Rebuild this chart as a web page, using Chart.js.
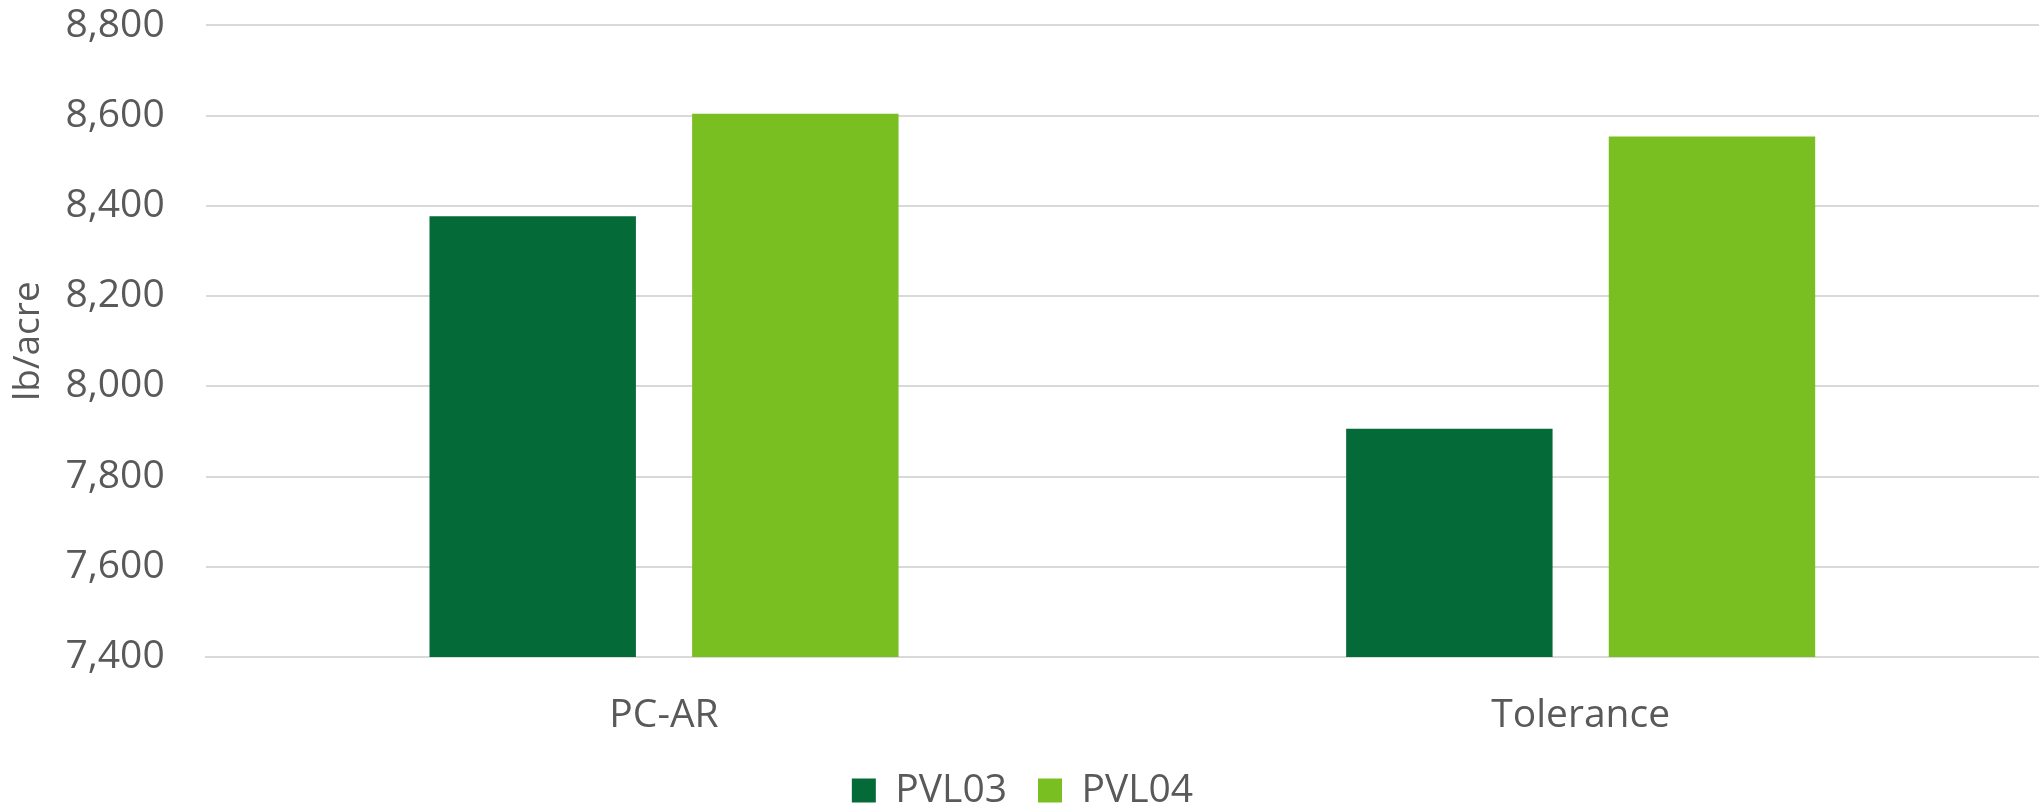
<!DOCTYPE html>
<html>
<head>
<meta charset="utf-8">
<script src="https://cdn.jsdelivr.net/npm/chart.js@4/dist/chart.umd.min.js"></script>
<style>
    html, body { margin: 0; padding: 0; background: #fff; }
    #wrap { width: 2039px; height: 803px; }
</style>
</head>
<body>
<div id="wrap"><canvas id="chart"></canvas></div>
<script>
const categories = ["PC-AR", "Tolerance"];
const seriesNames = ["PVL03", "PVL04"];
const pvl03 = [8377, 7906];
const pvl04 = [8604, 8554];
const yTicks = [7400, 7600, 7800, 8000, 8200, 8400, 8600, 8800];

const txt = "#595959";
const fontFam = "'Open Sans', 'Liberation Sans', sans-serif";

const ctx = document.getElementById("chart").getContext("2d");
new Chart(ctx, {
    type: "bar",
    data: {
        labels: categories,
        datasets: [
            { label: seriesNames[0], data: pvl03, backgroundColor: "#046A38" },
            { label: seriesNames[1], data: pvl04, backgroundColor: "#7ABF22" },
        ],
    },
    options: {
        responsive: true,
        maintainAspectRatio: false,
        animation: false,
        categoryPercentage: 0.573,
        barPercentage: 0.786,
        layout: { padding: { top: 0, right: 0, left: 6, bottom: -17 } },
        scales: {
            x: {
                grid: { display: false, drawTicks: false },
                border: { color: "#d9d9d9", width: 2 },
                ticks: { color: txt, font: { family: fontFam, size: 39 }, padding: 35 },
                // fixed axis box height so the plot bottom lines up with the original
                afterFit: (axis) => { axis.height = 83; },
            },
            y: {
                min: yTicks[0],
                max: yTicks[yTicks.length - 1],
                afterBuildTicks: (axis) => {
                    axis.ticks = yTicks.map((v) => ({ value: v }));
                },
                grid: {
                    color: "#d9d9d9",
                    lineWidth: 2,
                    drawTicks: true,
                    tickLength: 39,
                    tickColor: "rgba(0,0,0,0)",
                },
                border: { display: false },
                ticks: {
                    color: txt,
                    padding: 2,
                    font: { family: fontFam, size: 39 },
                    callback: (v) => v.toLocaleString("en-US"),
                },
                title: {
                    display: true,
                    text: "lb/acre",
                    color: txt,
                    font: { family: fontFam, size: 37 },
                    padding: { top: 0, bottom: 13 },
                },
            },
        },
        plugins: {
            tooltip: { enabled: false },
            legend: {
                position: "bottom",
                labels: {
                    color: txt,
                    font: { family: fontFam, size: 39 },
                    boxWidth: 24,
                    boxHeight: 24,
                    padding: 31,
                },
            },
        },
    },
});
</script>
</body>
</html>
